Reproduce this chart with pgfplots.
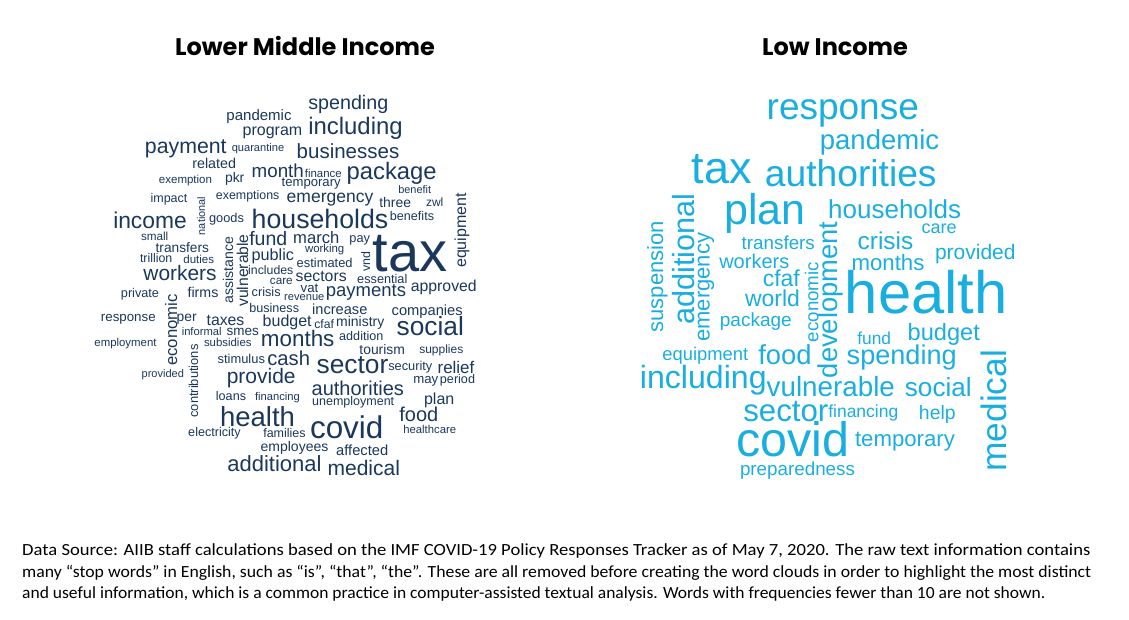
\documentclass[border=0pt]{standalone}
\usepackage{fontspec}
\usepackage{pgfplots}
\usepackage{pgfplotstable}
\pgfplotsset{compat=1.18}
\newfontfamily\wordfont{Liberation Sans}
\newfontfamily\titlefont{Poppins}
\newfontfamily\noteA[FakeStretch=1.095]{Carlito}
\newfontfamily\noteB[FakeStretch=1.043]{Carlito}
\newfontfamily\noteC[FakeStretch=1.03]{Carlito}
\definecolor{navy}{RGB}{26,55,92}
\definecolor{sky}{RGB}{24,175,224}

% word clouds: x, y in pixels of the 1129x620 picture, s = font size, r = rotation
\pgfplotstableread{
x y s r w
259 120.5 15 0 pandemic
272.5 136 16 0 program
185.8 153.3 21.3 0 payment
258 152 11.1 0 quarantine
214.2 168.3 14.3 0 related
277.8 177.3 18.8 0 month
185.5 184 11.5 0 exemption
234.7 183 13.9 0 pkr
169 202.7 12.5 0 impact
247.7 200 12.4 0 exemptions
205 216 10.9 90 national
150 229 22.8 0 income
226.5 222.7 12.8 0 goods
348.3 109.3 19.7 0 spending
355.5 135 23.9 0 including
348 158.3 20.5 0 businesses
323.3 177.3 11.4 0 finance
391.7 179.3 23.8 0 package
311.2 186.7 13.1 0 temporary
414.7 193.3 10.9 0 benefit
330 202.3 17.5 0 emergency
395.2 207.3 13.9 0 three
434.7 206.7 12 0 zwl
412 220.7 12.6 0 benefits
466 230.5 16 90 equipment
320 228.3 26.7 0 households
410 272 56 0 tax
268.3 246 19.5 0 fund
316.3 243.3 16.6 0 march
359.7 242.7 12.8 0 pay
324.7 252.7 11.4 0 working
272.8 261 16.2 0 public
324.7 267.3 12.9 0 estimated
370 261.7 12.4 90 vnd
270.8 275 12.3 0 includes
281.3 284 11.7 0 care
321.2 281 15.8 0 sectors
382.3 283.3 12.7 0 essential
309.5 292.7 13.2 0 vat
304.3 300.7 11.1 0 revenue
366 296.7 18.5 0 payments
443.8 291 15.8 0 approved
266.2 296.7 12.7 0 crisis
274.2 312.3 12.6 0 business
339.8 314 14.6 0 increase
427.2 315.7 14.7 0 companies
287.2 326.7 16 0 budget
324.2 328.3 12.2 0 cfaf
360.2 326.7 14 0 ministry
430.3 335 26.3 0 social
361.3 340.7 12.6 0 addition
297.7 346.7 22.4 0 months
382.2 354 13.9 0 tourism
441.3 353 12 0 supplies
154.7 241 11.7 0 small
182.3 252.3 13.7 0 transfers
156.2 262.3 12.4 0 trillion
198.7 263.3 11.5 0 duties
180 280 20.9 0 workers
233 270 14.1 90 assistance
248 270.5 15.7 90 vulnerable
140 297.7 12.7 0 private
203 297.7 14.2 0 firms
177 330 16.7 90 economic
128.3 321.7 13.3 0 response
186.7 321 13.8 0 per
225.5 325 15.8 0 taxes
201.7 335 11.2 0 informal
242.8 335 13.5 0 smes
125.5 346.7 11.4 0 employment
227.8 346.7 11.4 0 subsidies
198 381 12.9 90 contributions
162.8 377.7 11 0 provided
241.3 363.3 12.9 0 stimulus
288.7 365 20.2 0 cash
261.2 383.3 21 0 provide
231 400.7 12.6 0 loans
277.5 400 11.2 0 financing
352.5 373.3 26.3 0 sector
410.3 370.7 12.8 0 security
456 373.3 16.9 0 relief
425.8 383.3 13.2 0 may
457.5 383.3 12.6 0 period
357.8 395 20 0 authorities
353.2 405 12.5 0 unemployment
439.2 404 16 0 plan
257.5 426.7 27.5 0 health
346.7 438.3 31.4 0 covid
418.8 421.7 20 0 food
429.7 433.3 11.3 0 healthcare
214.5 436.7 12.6 0 electricity
284.5 437.3 12.5 0 families
294.5 451.7 14 0 employees
362.2 455 14.7 0 affected
274.5 471.7 22 0 additional
363.8 475 21 0 medical
}\lowermid

\pgfplotstableread{
x y s r w
842.8 120 37 0 response
879.5 150 27.5 0 pandemic
721.7 183.3 45 0 tax
850.8 186.7 37.2 0 authorities
765 225 43 0 plan
894.7 218.3 26 0 households
939.2 233.3 18 0 care
885.5 250 24.4 0 crisis
975.3 259 21 0 provided
888 270 22.2 0 months
778.3 250 18.8 0 transfers
754.3 268.3 20 0 workers
781.3 287 23 0 cfaf
772.5 306.7 23 0 world
755.8 326 19 0 package
705.3 360 18.4 0 equipment
785 364.3 27.4 0 food
703.3 388.3 32.1 0 including
830.8 396.7 27.8 0 vulnerable
785.8 421.7 31.2 0 sector
863.3 417.3 17.5 0 financing
792.5 456.7 48.4 0 covid
797.5 475 18.8 0 preparedness
905 446.7 22.2 0 temporary
937.3 419.3 19.4 0 help
938.3 396.7 26.1 0 social
901.7 364 27.1 0 spending
874.2 344 17.3 0 fund
943.8 340 23.6 0 budget
926.3 313.3 59.7 0 health
1006 410.8 35.3 90 medical
663 276.7 22 90 suspension
694 259 30.6 90 additional
709.7 287.3 22 90 emergency
818.4 302 18.7 90 economic
837.5 300 27.3 90 development
}\lowincome

\pgfplotsset{
  cloud/.style={
    draw=none, mark=none,
    nodes near coords,
    point meta=explicit symbolic,
    visualization depends on={\thisrow{s} \as \wsz},
    visualization depends on={\thisrow{r} \as \wrot},
    nodes near coords style={anchor=base, inner sep=0pt, text=#1,
      font=\wordfont\fontsize{\wsz pt}{\wsz pt}\selectfont, rotate=\wrot},
  },
}

\begin{document}
\begin{tikzpicture}
\begin{axis}[
  width=1129pt, height=620pt, scale only axis,
  xmin=0, xmax=1129, ymin=0, ymax=620, y dir=reverse,
  hide axis, clip=false,
]
\path (axis cs:0,0) rectangle (axis cs:1129,620);

\addplot[cloud=navy] table[x=x, y=y, meta=w] {\lowermid};
\addplot[cloud=sky] table[x=x, y=y, meta=w] {\lowincome};

\node[anchor=base, font=\titlefont\bfseries\fontsize{24}{24}\selectfont]
  at (axis cs:305,56) {Lower Middle Income};
\node[anchor=base, font=\titlefont\bfseries\fontsize{24}{24}\selectfont]
  at (axis cs:835,56) {Low Income};

\node[anchor=base west, inner sep=0pt, font=\noteA\fontsize{17}{17}\selectfont]
  at (axis cs:22,555) {Data Source: AIIB staff calculations based on the IMF COVID-19 Policy Responses Tracker as of May 7, 2020. The raw text information contains};
\node[anchor=base west, inner sep=0pt, font=\noteB\fontsize{17}{17}\selectfont]
  at (axis cs:22,577) {many “stop words” in English, such as “is”, “that”, “the”. These are all removed before creating the word clouds in order to highlight the most distinct};
\node[anchor=base west, inner sep=0pt, font=\noteC\fontsize{17}{17}\selectfont]
  at (axis cs:22,598) {and useful information, which is a common practice in computer-assisted textual analysis. Words with frequencies fewer than 10 are not shown.};
\end{axis}
\end{tikzpicture}
\end{document}
